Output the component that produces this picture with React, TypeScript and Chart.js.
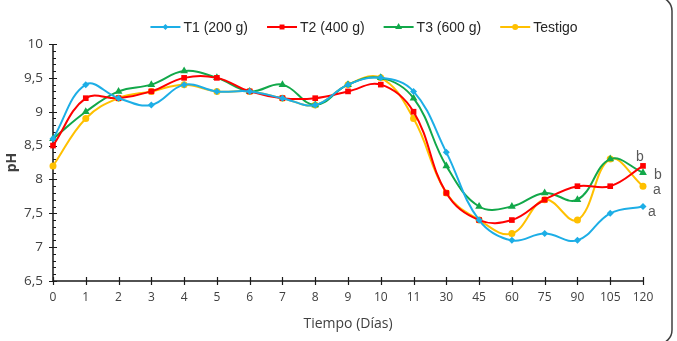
import React, { useEffect, useRef } from "react";
import { Chart, registerables } from "chart.js";

Chart.register(...registerables);

// Sampling days (category axis)
const dias = ["0", "1", "2", "3", "4", "5", "6", "7", "8", "9", "10", "11", "30", "45", "60", "75", "90", "105", "120"];

// pH readings per treatment
const t1 = [8.6, 9.4, 9.2, 9.1, 9.4, 9.3, 9.3, 9.2, 9.1, 9.4, 9.5, 9.3, 8.4, 7.4, 7.1, 7.2, 7.1, 7.5, 7.6];
const t2 = [8.5, 9.2, 9.2, 9.3, 9.5, 9.5, 9.3, 9.2, 9.2, 9.3, 9.4, 9.0, 7.8, 7.4, 7.4, 7.7, 7.9, 7.9, 8.2];
const t3 = [8.6, 9.0, 9.3, 9.4, 9.6, 9.5, 9.3, 9.4, 9.1, 9.4, 9.5, 9.2, 8.2, 7.6, 7.6, 7.8, 7.7, 8.3, 8.1];
const testigo = [8.2, 8.9, 9.2, 9.3, 9.4, 9.3, 9.3, 9.2, 9.1, 9.4, 9.5, 8.9, 7.8, 7.4, 7.2, 7.7, 7.4, 8.3, 7.9];

const seriesNames = ["T1 (200 g)", "T2 (400 g)", "T3 (600 g)", "Testigo"];
const seriesColors = ["#1DAEE6", "#FF0000", "#12A84A", "#FFC000"];
const seriesMarkers = ["rectRot", "rect", "triangle", "circle"];
const seriesRadius = [3.5, 4, 4.5, 3.5];

// Significance letters at the last sampling day
const letras = [
  { serie: 1, texto: "b", dx: -3, dy: -9 },
  { serie: 2, texto: "b", dx: 15, dy: 2 },
  { serie: 3, texto: "a", dx: 14, dy: 4 },
  { serie: 0, texto: "a", dx: 9, dy: 6 },
];

const Y_MIN = 6.5;
const Y_MAX = 10;

const axisFont = "'Open Sans', 'Liberation Sans', sans-serif";
const legendFont = "'Liberation Sans', Arial, sans-serif";

function drawMarker(ctx: CanvasRenderingContext2D, style: string, r: number, x: number, y: number) {
  ctx.beginPath();
  if (style === "rectRot") {
    ctx.moveTo(x, y - r);
    ctx.lineTo(x + r, y);
    ctx.lineTo(x, y + r);
    ctx.lineTo(x - r, y);
    ctx.closePath();
  } else if (style === "rect") {
    const s = r * Math.SQRT1_2;
    ctx.rect(x - s, y - s, 2 * s, 2 * s);
  } else if (style === "triangle") {
    ctx.moveTo(x, y - r);
    ctx.lineTo(x + r * 0.866, y + r * 0.5);
    ctx.lineTo(x - r * 0.866, y + r * 0.5);
    ctx.closePath();
  } else {
    ctx.arc(x, y, r, 0, Math.PI * 2);
  }
  ctx.fill();
}

// Axis lines with crossing major ticks and inner minor ticks
const axesPlugin = {
  id: "ejes",
  beforeDatasetsDraw(chart: any) {
    const { ctx, chartArea } = chart;
    const x = chart.scales.x;
    const y = chart.scales.y;
    ctx.save();
    ctx.strokeStyle = "#1a1a1a";
    ctx.lineWidth = 1.5;
    ctx.beginPath();
    ctx.moveTo(chartArea.left, chartArea.top);
    ctx.lineTo(chartArea.left, chartArea.bottom);
    ctx.lineTo(chartArea.right, chartArea.bottom);
    ctx.stroke();

    ctx.lineWidth = 1.2;
    ctx.beginPath();
    for (let v = 0; v <= Math.round((Y_MAX - Y_MIN) * 10); v++) {
      const val = Y_MIN + v / 10;
      const py = Math.round(y.getPixelForValue(val)) + 0.5;
      if (v % 5 === 0) {
        ctx.moveTo(chartArea.left - 4, py);
        ctx.lineTo(chartArea.left + 4, py);
      } else {
        ctx.moveTo(chartArea.left, py);
        ctx.lineTo(chartArea.left + 3, py);
      }
    }
    for (let i = 0; i < dias.length; i++) {
      const px = Math.round(x.getPixelForValue(i)) + 0.5;
      ctx.moveTo(px, chartArea.bottom - 4);
      ctx.lineTo(px, chartArea.bottom + 4);
    }
    ctx.stroke();
    ctx.restore();
  },
};

// Legend: short line with the series marker, then the name
const legendPlugin = {
  id: "leyenda",
  afterDraw(chart: any) {
    const { ctx } = chart;
    ctx.save();
    ctx.font = `14px ${legendFont}`;
    const lineLen = 30;
    const textGap = 3;
    const itemGap = 19;
    const widths = seriesNames.map((n) => ctx.measureText(n).width);
    const total = widths.reduce((a, w) => a + lineLen + textGap + w, 0) + itemGap * (seriesNames.length - 1);
    let cx = 364 - total / 2;
    const cy = 27;
    seriesNames.forEach((name, i) => {
      ctx.strokeStyle = seriesColors[i];
      ctx.lineWidth = 2;
      ctx.beginPath();
      ctx.moveTo(cx, cy);
      ctx.lineTo(cx + lineLen, cy);
      ctx.stroke();
      ctx.fillStyle = seriesColors[i];
      drawMarker(ctx, seriesMarkers[i], seriesRadius[i] - 0.5, cx + lineLen / 2, cy);
      ctx.fillStyle = "#262626";
      ctx.textBaseline = "middle";
      ctx.textAlign = "left";
      ctx.fillText(name, cx + lineLen + textGap, cy + 1);
      cx += lineLen + textGap + widths[i] + itemGap;
    });
    ctx.restore();
  },
};

// Letters next to the final points
const lettersPlugin = {
  id: "letras",
  afterDatasetsDraw(chart: any) {
    const { ctx } = chart;
    ctx.save();
    ctx.font = `14px ${legendFont}`;
    ctx.fillStyle = "#595959";
    ctx.textAlign = "center";
    ctx.textBaseline = "middle";
    letras.forEach((l) => {
      const meta = chart.getDatasetMeta(l.serie);
      const pt = meta.data[meta.data.length - 1];
      ctx.fillText(l.texto, pt.x + l.dx, pt.y + l.dy);
    });
    ctx.restore();
  },
};

// Rounded outer frame
const framePlugin = {
  id: "marco",
  afterDraw(chart: any) {
    const { ctx } = chart;
    ctx.save();
    ctx.strokeStyle = "#404040";
    ctx.lineWidth = 1.5;
    ctx.beginPath();
    ctx.roundRect(-10, -3, 682, 347, 14);
    ctx.stroke();
    ctx.restore();
  },
};

export default function App() {
  const canvasRef = useRef<HTMLCanvasElement | null>(null);

  useEffect(() => {
    if (!canvasRef.current) return;
    const data = [t1, t2, t3, testigo];
    const chart = new Chart(canvasRef.current, {
      type: "line",
      data: {
        labels: dias,
        datasets: data.map((d, i) => ({
          label: seriesNames[i],
          data: d,
          borderColor: seriesColors[i],
          backgroundColor: seriesColors[i],
          borderWidth: 2,
          pointStyle: seriesMarkers[i] as any,
          pointRadius: seriesRadius[i],
          pointBorderWidth: 0,
          tension: 0.4,
          fill: false,
        })),
      },
      options: {
        animation: false,
        responsive: false,
        maintainAspectRatio: false,
        layout: { padding: { left: 0, right: 34, top: 44, bottom: 0 } },
        plugins: {
          legend: { display: false },
          tooltip: { enabled: false },
        },
        scales: {
          x: {
            type: "category",
            offset: false,
            grid: { display: false, drawTicks: false },
            border: { display: false },
            ticks: {
              color: "#404040",
              font: { family: axisFont, size: 12 },
              padding: 9,
              maxRotation: 0,
              autoSkip: false,
            },
            title: {
              display: true,
              text: "Tiempo (Días)",
              color: "#404040",
              font: { family: axisFont, size: 14 },
              padding: { top: 0, bottom: 9 },
            },
            afterFit: (s: any) => {
              s.height = 60;
            },
          },
          y: {
            min: Y_MIN,
            max: Y_MAX,
            grid: { display: false, drawTicks: false },
            border: { display: false },
            ticks: {
              stepSize: 0.5,
              color: "#404040",
              font: { family: axisFont, size: 13.5 },
              padding: 10,
              callback: (v: any) => String(v).replace(".", ","),
            },
            title: {
              display: true,
              text: "pH",
              color: "#404040",
              font: { family: axisFont, size: 14, weight: "bold" },
              padding: { top: 4, bottom: 0 },
            },
            afterFit: (s: any) => {
              s.width = 53;
            },
          },
        },
      },
      plugins: [axesPlugin, lettersPlugin, legendPlugin, framePlugin],
    } as any);
    return () => chart.destroy();
  }, []);

  return (
    <div style={{ position: "fixed", left: 0, top: 0, width: 677, height: 341, background: "#fff" }}>
      <canvas ref={canvasRef} width={677} height={341} style={{ display: "block", width: 677, height: 341 }} />
    </div>
  );
}
